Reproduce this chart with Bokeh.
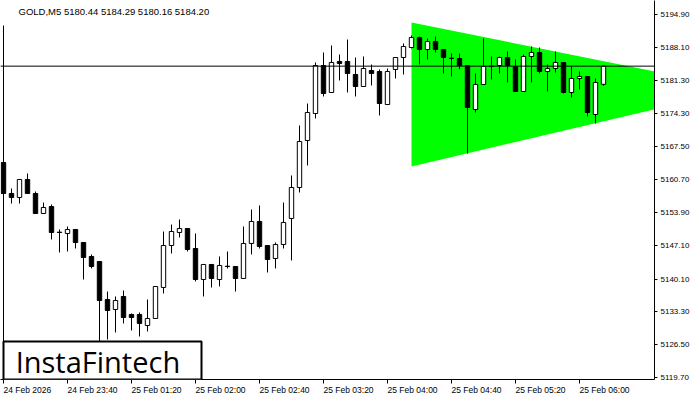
from bokeh.plotting import figure
from bokeh.models import (Range1d, FixedTicker, LinearAxis, Span, Label,
                          BoxAnnotation, ColumnDataSource, PrintfTickFormatter)
from bokeh.embed import file_html
from bokeh.resources import INLINE

# ---- data ----
opens = [5164.24, 5157.82, 5156.99, 5160.72, 5157.82, 5153.67, 5155.12, 5149.80, 5149.53, 5150.36,
         5147.66, 5144.76, 5143.73, 5135.86, 5133.78, 5136.48, 5132.75, 5132.75, 5130.47, 5131.92,
         5138.35, 5147.04, 5149.74, 5150.56, 5146.42, 5140.00, 5143.11, 5140.00, 5142.75, 5142.69,
         5140.21, 5147.46, 5152.02, 5147.04, 5144.35, 5147.25, 5152.64, 5159.06, 5168.80, 5174.39,
         5184.33, 5178.74, 5185.16, 5185.16, 5182.47, 5179.98, 5183.30, 5183.09, 5176.25, 5183.51,
         5185.99, 5188.06, 5190.13, 5187.65, 5189.31, 5187.65, 5185.85, 5185.78, 5184.33, 5175.22,
         5180.40, 5184.20, 5184.33, 5185.99, 5184.13, 5178.95, 5186.20, 5187.03, 5183.09, 5183.71,
         5184.96, 5178.74, 5181.64, 5182.05, 5174.18, 5180.44]
highs = [5165.48, 5158.85, 5160.72, 5161.96, 5158.23, 5155.95, 5155.54, 5150.36, 5150.98, 5150.36,
         5147.66, 5145.18, 5143.73, 5137.51, 5136.48, 5137.72, 5132.96, 5133.17, 5135.86, 5138.55,
         5149.94, 5151.39, 5152.43, 5150.56, 5149.53, 5143.11, 5143.11, 5144.76, 5145.80, 5142.69,
         5150.98, 5154.50, 5155.33, 5147.04, 5147.66, 5155.95, 5161.55, 5171.90, 5176.46, 5184.96,
         5187.03, 5188.48, 5186.61, 5189.72, 5185.99, 5186.20, 5184.54, 5183.51, 5183.71, 5185.99,
         5188.89, 5190.55, 5190.34, 5189.93, 5190.34, 5187.65, 5186.82, 5186.82, 5184.33, 5182.68,
         5189.93, 5186.20, 5186.20, 5187.23, 5185.58, 5186.61, 5188.27, 5188.06, 5184.54, 5187.23,
         5184.96, 5184.13, 5183.09, 5182.05, 5181.64, 5184.29]
lows = [5156.99, 5155.74, 5155.74, 5157.82, 5153.67, 5153.67, 5148.29, 5145.59, 5145.80, 5146.42,
        5140.00, 5142.28, 5126.50, 5127.57, 5129.02, 5130.89, 5129.44, 5128.19, 5129.23, 5131.92,
        5137.10, 5145.39, 5148.70, 5145.80, 5139.59, 5136.48, 5138.35, 5138.55, 5142.28, 5137.51,
        5140.21, 5145.18, 5146.42, 5141.45, 5142.28, 5146.42, 5143.94, 5158.02, 5163.62, 5173.35,
        5177.91, 5178.74, 5181.23, 5178.74, 5177.91, 5179.98, 5180.19, 5173.98, 5176.25, 5181.64,
        5182.47, 5187.86, 5184.54, 5185.58, 5187.03, 5182.68, 5182.05, 5183.51, 5166.10, 5174.60,
        5180.40, 5181.43, 5182.68, 5180.81, 5178.95, 5178.95, 5180.81, 5182.68, 5178.95, 5182.88,
        5178.53, 5177.70, 5179.36, 5173.77, 5172.32, 5180.16]
closes = [5157.82, 5156.99, 5160.72, 5157.82, 5153.67, 5154.92, 5149.74, 5149.74, 5150.36, 5147.66,
          5144.56, 5142.69, 5135.65, 5133.58, 5135.65, 5132.13, 5132.13, 5130.89, 5131.92, 5138.55,
          5147.04, 5149.94, 5150.56, 5146.21, 5140.00, 5143.11, 5140.21, 5142.90, 5142.69, 5140.21,
          5147.46, 5152.02, 5146.84, 5144.14, 5147.25, 5151.81, 5159.06, 5168.59, 5174.60, 5184.33,
          5178.53, 5184.96, 5184.75, 5182.68, 5179.98, 5183.71, 5182.68, 5176.46, 5183.09, 5185.99,
          5188.27, 5190.13, 5187.65, 5189.31, 5187.65, 5185.99, 5185.78, 5184.33, 5175.63, 5180.40,
          5184.13, 5184.13, 5185.99, 5184.33, 5178.95, 5186.20, 5187.03, 5183.09, 5183.71, 5184.96,
          5178.74, 5181.64, 5182.05, 5174.60, 5180.81, 5184.20]

time_ticks = [0, 8, 16, 24, 32, 40, 48, 56, 64, 72]
time_labels = ["24 Feb 2026", "24 Feb 23:40", "25 Feb 01:20", "25 Feb 02:00", "25 Feb 02:40",
               "25 Feb 03:20", "25 Feb 04:00", "25 Feb 04:40", "25 Feb 05:20", "25 Feb 06:00"]
price_ticks = [5194.90, 5188.10, 5181.30, 5174.30, 5167.50, 5160.70, 5153.90,
               5147.10, 5140.10, 5133.30, 5126.50, 5119.70]

# symmetrical triangle pattern (bar index, price)
tri_x = [51, 92.25, 51]
tri_y = [5193.24, 5179.47, 5163.41]

last_price = 5184.20
header_text = "GOLD,M5  5180.44 5184.29 5180.16 5184.20"
logo_text = "InstaFintech"

# ---- figure ----
X0, X1 = -0.375, 81.375
Y0, Y1 = 5119.28, 5197.80
FONT = "Liberation Sans"
PX_PER_BAR = 8.0
TIME_FS = 8.5

p = figure(width=700, height=400, output_backend="svg", toolbar_location=None,
           x_range=Range1d(X0, X1), y_range=Range1d(Y0, Y1),
           x_axis_location=None, y_axis_location=None,
           min_border_left=0, min_border_top=0, min_border_right=46, min_border_bottom=21)
p.grid.visible = False
p.outline_line_color = None
p.background_fill_color = "white"
p.border_fill_color = "white"

# triangle
p.patch(tri_x, tri_y, fill_color="#00FF00", line_color=None)

# candles
idx = list(range(len(opens)))
src = ColumnDataSource(dict(
    x=idx, high=highs, low=lows,
    top=[max(o, c) for o, c in zip(opens, closes)],
    bottom=[min(o, c) for o, c in zip(opens, closes)],
    fill=["black" if c < o else "white" for o, c in zip(opens, closes)],
))
p.segment(x0="x", y0="low", x1="x", y1="high", source=src, line_color="black", line_width=1)
p.vbar(x="x", width=0.55, top="top", bottom="bottom", source=src,
       fill_color="fill", line_color="black", line_width=1)

# left border line (below header)
p.segment(x0=[0], y0=[5192.62], x1=[0], y1=[Y0], line_color="black", line_width=1)

# current price line
p.add_layout(Span(location=last_price, dimension="width", line_color="black", line_width=1))

# right price axis
yax = LinearAxis(ticker=FixedTicker(ticks=price_ticks),
                 formatter=PrintfTickFormatter(format="%.2f"),
                 major_tick_out=3, major_tick_in=0, minor_tick_out=0, minor_tick_in=0,
                 major_label_standoff=3, major_label_text_font_size="8px",
                 major_label_text_font=FONT, major_label_text_color="black",
                 axis_line_color="black", major_tick_line_color="black")
p.add_layout(yax, "right")

# bottom time axis: tick marks at the bar positions
xax = LinearAxis(ticker=FixedTicker(ticks=time_ticks),
                 major_label_overrides={t: "" for t in time_ticks},
                 major_tick_out=4, major_tick_in=0, minor_tick_out=0, minor_tick_in=0,
                 major_label_standoff=0,
                 axis_line_color="black", major_tick_line_color="black")
p.add_layout(xax, "below")

# labels left-aligned at the tick marks: centre each label half its width to the right
CHAR_W = {" ": 0.278, ":": 0.278, "F": 0.611, "e": 0.556, "b": 0.556}
def text_width(s):
    return sum(CHAR_W.get(ch, 0.556) for ch in s) * TIME_FS

label_pos = [t + text_width(s) / 2 / PX_PER_BAR for t, s in zip(time_ticks, time_labels)]
xlab = LinearAxis(ticker=FixedTicker(ticks=label_pos),
                  major_label_overrides={pos: s for pos, s in zip(label_pos, time_labels)},
                  major_tick_out=0, major_tick_in=0, minor_tick_out=0, minor_tick_in=0,
                  major_label_text_font_size=f"{TIME_FS}px", major_label_text_font=FONT,
                  major_label_standoff=1, major_label_text_color="black",
                  axis_line_color=None, major_tick_line_color=None)
p.add_layout(xlab, "below")

# current price badge
p.add_layout(Label(x=X1, y=last_price, x_offset=5, text=f"{last_price:.2f}",
                   text_align="left", text_baseline="middle", text_font_size="8px",
                   text_font=FONT, text_color="white", background_fill_color="black",
                   padding=2))

# header
p.add_layout(Label(x=1.875, y=5195.52, text=header_text, text_align="left",
                   text_baseline="middle", text_font_size="9.5px", text_font=FONT,
                   text_color="black"))

# logo box
p.add_layout(BoxAnnotation(left=0, right=24.75, top=5127.15, bottom=Y0,
                           fill_color="white", fill_alpha=1.0,
                           line_color="black", line_width=2, line_alpha=1.0))
p.add_layout(Label(x=11.8, y=5123.0, text=logo_text, text_align="center",
                   text_baseline="middle", text_font_size="29px", text_font="Open Sans",
                   text_color="black"))

open("out.html", "w").write(file_html(p, INLINE))
